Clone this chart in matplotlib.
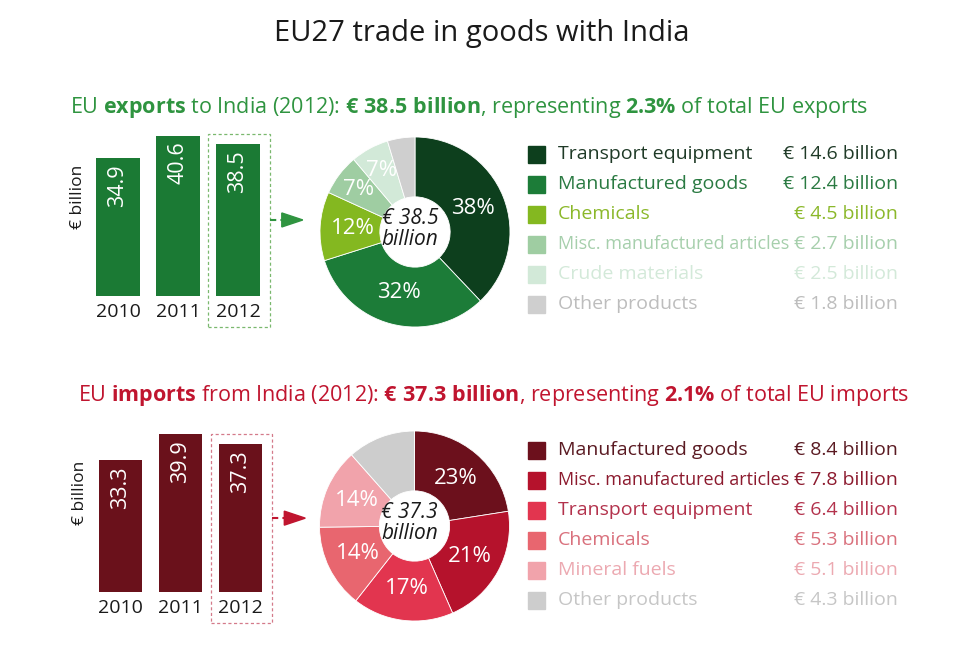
import matplotlib
matplotlib.use("Agg")
import numpy as np
import matplotlib.pyplot as plt
from matplotlib.patches import Rectangle, Polygon

plt.rcParams['font.family'] = ['Open Sans', 'DejaVu Sans']
plt.rcParams['mathtext.fontset'] = 'custom'
plt.rcParams['mathtext.rm'] = 'Open Sans'
plt.rcParams['mathtext.bf'] = 'Open Sans:bold'
plt.rcParams['mathtext.it'] = 'Open Sans:italic'

W, H = 960, 649

# ---------------- data ----------------
title = "EU27 trade in goods with India"
years = ["2010", "2011", "2012"]
unit_label = "€ billion"

exp_subtitle = (r"EU $\mathbf{exports}$ to India (2012): $\mathbf{€\ 38.5\ billion}$, "
                r"representing $\mathbf{2.3\%}$ of total EU exports")
exp_totals = [34.9, 40.6, 38.5]
exp_categories = ["Transport equipment", "Manufactured goods", "Chemicals",
                  "Misc. manufactured articles", "Crude materials", "Other products"]
exp_values = [14.6, 12.4, 4.5, 2.7, 2.5, 1.8]
exp_value_labels = ["€ 14.6 billion", "€ 12.4 billion", "€ 4.5 billion",
                    "€ 2.7 billion", "€ 2.5 billion", "€ 1.8 billion"]
exp_pct_labels = ["38%", "32%", "12%", "7%", "7%", ""]
exp_center = "€ 38.5\nbillion"

imp_subtitle = (r"EU $\mathbf{imports}$ from India (2012): $\mathbf{€\ 37.3\ billion}$, "
                r"representing $\mathbf{2.1\%}$ of total EU imports")
imp_totals = [33.3, 39.9, 37.3]
imp_categories = ["Manufactured goods", "Misc. manufactured articles", "Transport equipment",
                  "Chemicals", "Mineral fuels", "Other products"]
imp_values = [8.4, 7.8, 6.4, 5.3, 5.1, 4.3]
imp_value_labels = ["€ 8.4 billion", "€ 7.8 billion", "€ 6.4 billion",
                    "€ 5.3 billion", "€ 5.1 billion", "€ 4.3 billion"]
imp_pct_labels = ["23%", "21%", "17%", "14%", "14%", ""]
imp_center = "€ 37.3\nbillion"

# ---------------- styles ----------------
exp_sub_color = "#2f9440"
exp_bar_color = "#1b7a34"
exp_pie_colors = ["#0d3f1d", "#1c7c38", "#84b820", "#9fcda2", "#d2e9d8", "#cfcfcf"]
exp_text_colors = ["#1f3a27", "#2a7a42", "#8bb82a", "#a6cfac", "#d3e9d9", "#bdbdbd"]
exp_box_color = "#7ab86e"

imp_sub_color = "#c0152f"
imp_bar_color = "#6a111b"
imp_pie_colors = ["#6c101c", "#b5122c", "#e2354f", "#e8666f", "#f1a3ab", "#cdcdcd"]
imp_text_colors = ["#5a1a22", "#8c1a2e", "#b3324c", "#d9707c", "#eca9b1", "#c6c6c6"]
imp_box_color = "#d47a8a"

fig = plt.figure(figsize=(W / 100, H / 100), dpi=100)
fig.patch.set_facecolor("white")
renderer = fig.canvas.get_renderer()

ov = fig.add_axes([0, 0, 1, 1], zorder=0)
ov.set_xlim(0, W)
ov.set_ylim(H, 0)
ov.axis("off")

ov.text(482, 34, title, ha="center", va="center", fontsize=21, color="#1a1a1a")


def section(subtitle, sub_x, sub_y, sub_color, totals, bar_color, bar_center0, base_px, scale,
            box_color, pie_cx, pie_cy, R, values, pie_colors, pct_labels, center_text,
            cats, val_labels, text_colors, leg_y0):
    ov.text(sub_x, sub_y, subtitle, ha="left", va="center", fontsize=15.5, color=sub_color)

    # bars
    ymax = 45
    ax = fig.add_axes([(bar_center0 - 30) / W, (H - base_px) / H, 180 / W, ymax * scale / H], zorder=2)
    x = np.arange(len(totals))
    ax.bar(x, totals, width=0.72, color=bar_color)
    ax.set_xlim(-0.5, 2.5)
    ax.set_ylim(0, ymax)
    ax.axis("off")
    for xi, v in zip(x, totals):
        ax.text(xi, v - 6 / scale, f"{v}", rotation=90, ha="center", va="top",
                color="white", fontsize=15.5)
    for xi, yr in zip(x, years):
        ax.text(xi, -16 / scale, yr, ha="center", va="center", fontsize=14, color="#1a1a1a",
                clip_on=False)
    ax.text(-0.67, 25, unit_label, rotation=90, ha="center", va="center", fontsize=12.5,
            color="#1a1a1a", clip_on=False)
    # dashed highlight box around last bar
    bx0, bx1 = 1.5, 2.53
    ax.add_patch(Rectangle((bx0, -7.8), bx1 - bx0, totals[-1] + 2.5 + 7.8, fill=False,
                           ls=(0, (2.5, 2)), lw=0.9, ec=box_color, clip_on=False))
    ay = totals[-1] / 2
    ax.plot([bx1, bx1 + 12 / 60], [ay, ay], ls=(0, (3, 2)), lw=1.5, color=sub_color,
            clip_on=False)
    hx = bx1 + 12 / 60
    hh = 7 / scale
    ax.add_patch(Polygon([(hx, ay - hh), (hx + 21 / 60, ay), (hx, ay + hh)], closed=True,
                         color=sub_color, clip_on=False))

    # donut
    ax2 = fig.add_axes([(pie_cx - R) / W, (H - pie_cy - R) / H, 2 * R / W, 2 * R / H], zorder=2)
    wedges, _ = ax2.pie(values, colors=pie_colors, startangle=90, counterclock=False, radius=1,
                        wedgeprops=dict(width=0.63, edgecolor="white", linewidth=0.6))
    ax2.set_xlim(-1, 1)
    ax2.set_ylim(-1, 1)
    for w, lab in zip(wedges, pct_labels):
        frac = (w.theta2 - w.theta1) / 360
        r = 0.66 if frac > 0.1 else 0.74
        a = np.deg2rad((w.theta1 + w.theta2) / 2)
        ax2.text(r * np.cos(a), r * np.sin(a), lab, ha="center", va="center",
                 color="white", fontsize=16)
    ax2.text(-0.05, 0.03, center_text, ha="center", va="center", fontsize=15,
             style="italic", color="#1a1a1a", linespacing=1.0)

    # legend
    for i, (c, vl, tc, sc) in enumerate(zip(cats, val_labels, text_colors, pie_colors)):
        y = leg_y0 + 30 * i
        ov.add_patch(Rectangle((528, y - 8.5), 17, 17, color=sc))
        tv = ov.text(898, y, vl, ha="right", va="center", fontsize=14, color=tc)
        tl = ov.text(558, y, c, ha="left", va="center", fontsize=14, color=tc)
        # shrink a long category name so it does not run into its value
        limit = tv.get_window_extent(renderer).x0 - 4
        fs = 14
        while tl.get_window_extent(renderer).x1 > limit and fs > 9:
            fs -= 0.25
            tl.set_fontsize(fs)


section(exp_subtitle, 70, 107, exp_sub_color, exp_totals, exp_bar_color, 118, 296, 3.95,
        exp_box_color, 415, 232, 95, exp_values, exp_pie_colors, exp_pct_labels, exp_center,
        exp_categories, exp_value_labels, exp_text_colors, 154)

section(imp_subtitle, 78, 395, imp_sub_color, imp_totals, imp_bar_color, 120.5, 592, 3.96,
        imp_box_color, 414.5, 526, 95, imp_values, imp_pie_colors, imp_pct_labels, imp_center,
        imp_categories, imp_value_labels, imp_text_colors, 450)

fig.savefig("out.png", dpi=100, facecolor="white")
